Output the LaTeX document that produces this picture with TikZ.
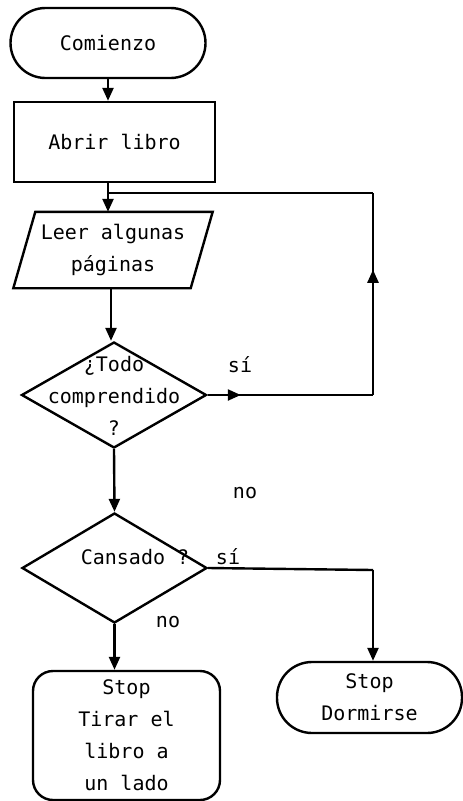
\documentclass[tikz,border=0pt]{standalone}
\usepackage{fontspec}
\newfontfamily\plotfont{DejaVu Sans Mono}
\usetikzlibrary{shapes.geometric,arrows.meta,decorations.markings}
\begin{document}
\begin{tikzpicture}[x=1pt,y=-1pt,
  line width=2.4pt,
  every node/.style={font=\plotfont\fontsize{20}{32}\selectfont, align=center, inner sep=0pt},
  tip/.tip={Triangle[length=13pt,width=11pt]},
  flow/.style={-tip},
  midtip/.style={decoration={markings,mark=at position #1 with {\arrow{tip}}},postaction={decorate}},
  terminal/.style={draw, rectangle, rounded corners=35pt, minimum width=195pt, minimum height=70pt},
  process/.style={draw, rectangle, minimum width=201pt, minimum height=80pt},
  iobody/.style={rectangle, minimum width=197pt, minimum height=74pt},
  decision/.style={draw, diamond, minimum width=185pt, minimum height=106pt},
  stopbox/.style={draw, rectangle, rounded corners=20pt, minimum width=187pt, minimum height=129pt},
  label/.style={}
]
\useasboundingbox (0,0) rectangle (463,801);

% nodes
\node[terminal] (start) at (108,43) {Comienzo};
\node[process] (open) at (114.5,142) {Abrir libro};
\node[iobody] (read) at (113,250) {Leer algunas\\páginas};
% slanted input/output outline around the body of "read"
\draw ([xshift=22pt]read.north west) -- (read.north east)
  -- ([xshift=-22pt]read.south east) -- (read.south west) -- cycle;
\node[decision] (q1) at (114,395) {};
\node (q1text) at (114,396) {¿Todo\\comprendido\\?};
\node[decision, minimum height=110pt] (q2) at (114.5,568) {};
\node (q2text) at (135,557) {Cansado ?};
\node[stopbox] (stop1) at (126.5,735.5) {Stop\\Tirar el\\libro a\\un lado};
\node[terminal, minimum width=185pt, minimum height=71pt] (stop2) at (369.5,697.5) {Stop\\Dormirse};

% branch labels
\node[label] (si1) at (240,365) {sí};
\node[label] (no1) at (245,493) {no};
\node[label] (si2) at (228,557) {sí};
\node[label] (no2) at (168,622) {no};

% loop corners
\coordinate (loopA) at (373,395);
\coordinate (loopB) at (373,193);
\coordinate (loopC) at (108,193);
\coordinate (tiredA) at (373,570);

% connectors
\draw[flow] (start.south) -- (start.south |- open.north);
\draw[flow] (open.south -| start.south) -- (read.north -| start.south);
\draw[flow] (read.south -| 111,0) -- (q1.north -| 111,0);
\draw[flow] (q1.south) -- (q2.north);
\draw[flow] (q2.south) -- (stop1.north -| q2.south);
\draw[midtip=0.2] (q1.east) -- (loopA);
\draw[midtip=0.62] (loopA) -- (loopB);
\draw (loopB) -- (loopC);
\draw (q2.east) -- (tiredA);
\draw[flow] (tiredA) -- (stop2.north -| tiredA);
\end{tikzpicture}
\end{document}
